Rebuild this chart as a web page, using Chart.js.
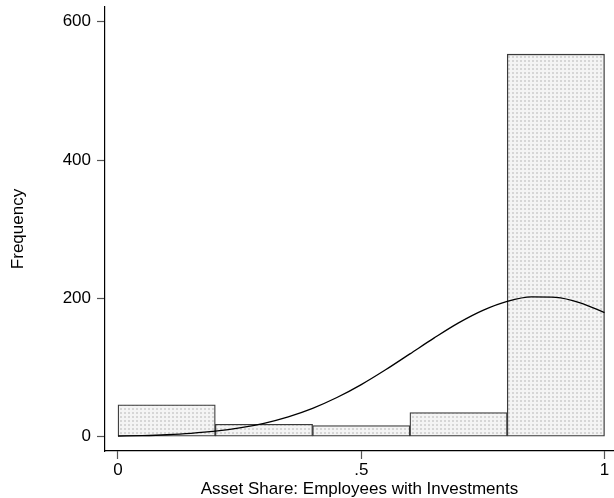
<!DOCTYPE html>
<html>
<head>
<meta charset="utf-8">
<script src="https://cdn.jsdelivr.net/npm/chart.js@4/dist/chart.umd.min.js"></script>
<style>
  html, body { margin: 0; padding: 0; background: #fff; }
  #wrap { width: 614px; height: 498px; position: relative; }
</style>
</head>
<body>
<div id="wrap"><canvas id="hist"></canvas></div>
<script>
// Histogram bins (centres of 0.2-wide bins) and counts
const binCenters = [0.1, 0.3, 0.5, 0.7, 0.9];
const binCounts = [46, 18, 16, 35, 553];

// Normal density overlay, sampled along the axis (frequency scale)
const curveX = [0, 0.05, 0.1, 0.15, 0.2, 0.25, 0.3, 0.35, 0.4, 0.45, 0.5,
                0.55, 0.6, 0.65, 0.7, 0.75, 0.8, 0.85, 0.9, 0.95, 1.0];
const curveY = [0.9, 1.6, 2.8, 4.8, 7.9, 12.6, 19.4, 28.7, 41.0, 56.6, 75.3,
                96.7, 119.7, 142.8, 164.5, 182.6, 195.6, 202.1, 201.4, 193.5, 179.4];

// Axis ticks
const xTicks = [0, 0.5, 1];
const xTickLabels = ['0', '.5', '1'];
const yTicks = [0, 200, 400, 600];

const xTitle = 'Asset Share: Employees with Investments';
const yTitle = 'Frequency';

// Light dotted fill for the bars
function dotPattern() {
  const c = document.createElement('canvas');
  c.width = 4; c.height = 4;
  const g = c.getContext('2d');
  g.fillStyle = '#f4f4f4';
  g.fillRect(0, 0, 4, 4);
  g.fillStyle = '#d6d6d6';
  g.fillRect(0, 0, 2, 2);
  return g.createPattern(c, 'repeat');
}

const FONT = 'Liberation Sans, Arial, Helvetica, sans-serif';
Chart.defaults.font.family = FONT;
Chart.defaults.color = '#000';

new Chart(document.getElementById('hist'), {
  type: 'bar',
  data: {
    datasets: [
      {
        type: 'line',
        data: curveX.map((x, i) => ({ x: x, y: curveY[i] })),
        borderColor: '#000',
        borderWidth: 1.3,
        pointRadius: 0,
        cubicInterpolationMode: 'monotone',
        fill: false,
        order: 0
      },
      {
        type: 'bar',
        data: binCenters.map((x, i) => ({ x: x, y: binCounts[i] })),
        backgroundColor: dotPattern(),
        borderColor: '#3a3a3a',
        borderWidth: 1.3,
        borderSkipped: false,
        barPercentage: 1,
        categoryPercentage: 1,
        order: 1
      }
    ]
  },
  options: {
    responsive: true,
    maintainAspectRatio: false,
    animation: false,
    layout: { padding: { left: 0, right: 0, top: 7, bottom: 0 } },
    plugins: { legend: { display: false }, tooltip: { enabled: false } },
    scales: {
      x: {
        type: 'linear',
        offset: false,
        min: -0.0267,
        max: 1.0195,
        afterBuildTicks: s => { s.ticks = xTicks.map(v => ({ value: v })); },
        afterFit: s => { s.height = 47; s.paddingLeft = 0; s.paddingRight = 0; },
        grid: { offset: false, drawOnChartArea: false, drawTicks: true, tickLength: 8, tickColor: '#555', tickWidth: 1.2 },
        border: { display: true, color: '#000', width: 1.2 },
        ticks: {
          autoSkip: false,
          maxRotation: 0,
          padding: 1,
          font: { size: 17 },
          callback: v => { const i = xTicks.indexOf(v); return i >= 0 ? xTickLabels[i] : ''; }
        },
        title: { display: true, text: xTitle, font: { size: 17, lineHeight: 1 }, padding: { top: 0, bottom: 0 } }
      },
      y: {
        min: -20.7,
        max: 621.2,
        afterBuildTicks: s => { s.ticks = yTicks.map(v => ({ value: v })); },
        afterFit: s => { s.width = 105; s.paddingTop = 0; s.paddingBottom = 0; },
        grid: { drawOnChartArea: false, drawTicks: true, tickLength: 8, tickColor: '#555', tickWidth: 1.2 },
        border: { display: true, color: '#000', width: 1.2 },
        ticks: { padding: 6, font: { size: 17 } },
        title: { display: true, text: yTitle, font: { size: 17, lineHeight: 1 }, padding: { top: 10, bottom: 0 } }
      }
    }
  }
});
</script>
</body>
</html>
